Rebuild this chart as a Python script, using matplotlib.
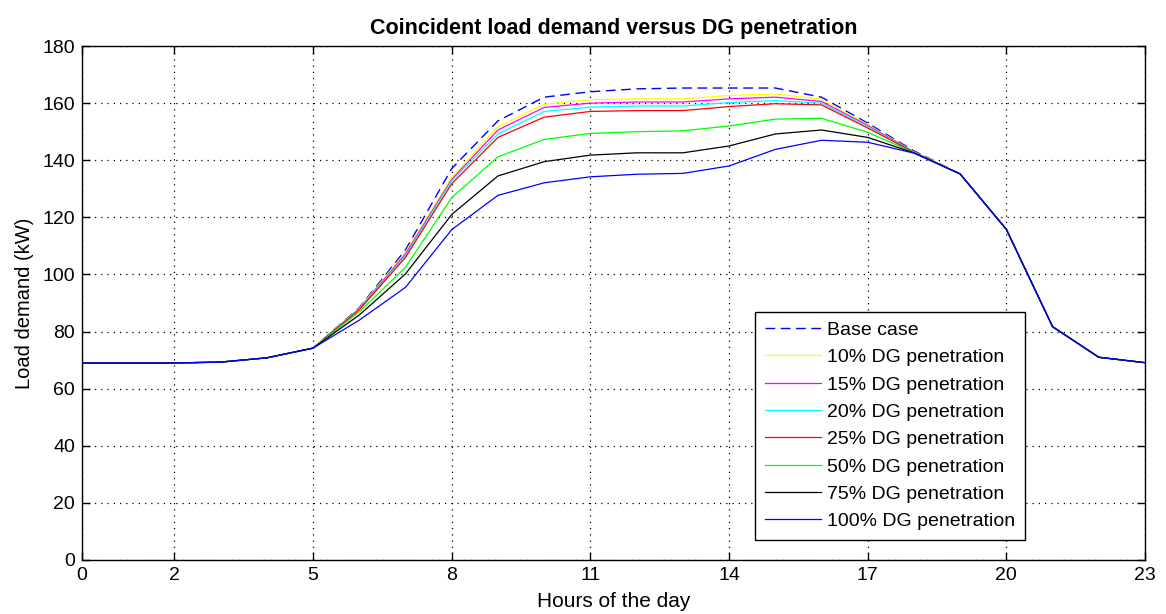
import numpy as np
import matplotlib.pyplot as plt

plt.rcParams['font.family'] = ['Liberation Sans', 'DejaVu Sans']

hours = list(range(24))
tick_hours = [0, 2, 5, 8, 11, 14, 17, 20, 23]

# load demand (kW), one list per case
base_case = [69, 69, 69, 69.3, 70.8, 74.2, 88.4, 108.6, 137.1, 153.8, 162.1, 164.0,
             165.0, 165.3, 165.3, 165.3, 162.1, 153.0, 143.3, 135.2, 115.8, 81.7, 71.0, 69.1]
dg_10 = [69, 69, 69, 69.3, 70.8, 74.2, 88.2, 107.8, 134.0, 151.8, 159.6, 161.2,
         161.5, 161.5, 162.7, 163.2, 161.4, 152.5, 143.0, 135.2, 115.8, 81.7, 71.0, 69.1]
dg_15 = [69, 69, 69, 69.3, 70.8, 74.2, 88.0, 107.2, 133.3, 150.6, 158.5, 160.0,
         160.4, 160.4, 161.5, 162.1, 160.6, 152.2, 142.9, 135.2, 115.8, 81.7, 71.0, 69.1]
dg_20 = [69, 69, 69, 69.3, 70.8, 74.2, 87.8, 106.6, 132.8, 149.2, 157.1, 158.6,
         159.0, 159.0, 160.2, 160.9, 160.0, 151.8, 142.8, 135.2, 115.8, 81.7, 71.0, 69.1]
dg_25 = [69, 69, 69, 69.3, 70.8, 74.2, 87.6, 106.0, 131.8, 148.0, 155.1, 157.1,
         157.4, 157.4, 158.8, 159.8, 159.4, 151.3, 142.8, 135.2, 115.8, 81.7, 71.0, 69.1]
dg_50 = [69, 69, 69, 69.3, 70.8, 74.2, 86.9, 102.5, 126.9, 141.2, 147.3, 149.4,
         150.0, 150.3, 152.0, 154.4, 154.7, 149.8, 142.7, 135.2, 115.8, 81.7, 71.0, 69.1]
dg_75 = [69, 69, 69, 69.3, 70.8, 74.2, 85.8, 100.2, 121.0, 134.5, 139.5, 141.8,
         142.6, 142.6, 145.0, 149.2, 150.6, 148.0, 142.6, 135.2, 115.8, 81.7, 71.0, 69.1]
dg_100 = [69, 69, 69, 69.3, 70.8, 74.2, 84.0, 95.5, 115.7, 127.7, 132.1, 134.2,
          135.1, 135.4, 138.0, 143.8, 147.0, 146.3, 142.5, 135.2, 115.8, 81.7, 71.0, 69.1]

labels = ['Base case', '10% DG penetration', '15% DG penetration', '20% DG penetration',
          '25% DG penetration', '50% DG penetration', '75% DG penetration',
          '100% DG penetration']
series = [base_case, dg_10, dg_15, dg_20, dg_25, dg_50, dg_75, dg_100]
colors = ['#0000ff', '#ffff00', '#ff00ff', '#00ffff', '#ff0000', '#00ff00', '#000000', '#0000ff']

fig = plt.figure(figsize=(11.66, 6.14), dpi=100)
ax = fig.add_axes([0.0703, 0.088, 0.9117, 0.837])

for i, (vals, lab, col) in enumerate(zip(series, labels, colors)):
    if i == 0:
        ax.plot(hours, vals, color=col, lw=1.0, dashes=(7, 4), label=lab)
    else:
        ax.plot(hours, vals, color=col, lw=0.9, label=lab)

ax.set_xlim(0, 23)
ax.set_ylim(0, 180)
ax.set_xticks(tick_hours)
ax.set_yticks(np.arange(0, 181, 20))
ax.tick_params(direction='in', length=6, width=1, labelsize=14, top=True, right=True, pad=5)
ax.grid(True, color='black', linestyle=(0, (1, 4)), linewidth=0.9)
for sp in ax.spines.values():
    sp.set_linewidth(1.0)

ax.set_title('Coincident load demand versus DG penetration', fontsize=15.5,
             fontweight='bold', pad=9)
ax.set_xlabel('Hours of the day', fontsize=15, labelpad=6)
ax.set_ylabel('Load demand (kW)', fontsize=14.5, labelpad=6)

leg = ax.legend(loc='lower right', bbox_to_anchor=(0.887, 0.039), fontsize=14,
                handlelength=2.9, labelspacing=0.5, borderpad=0.5, handletextpad=0.3,
                fancybox=False, framealpha=1, edgecolor='black', borderaxespad=0)
leg.get_frame().set_linewidth(1.0)

fig.savefig('out.png', dpi=100)
